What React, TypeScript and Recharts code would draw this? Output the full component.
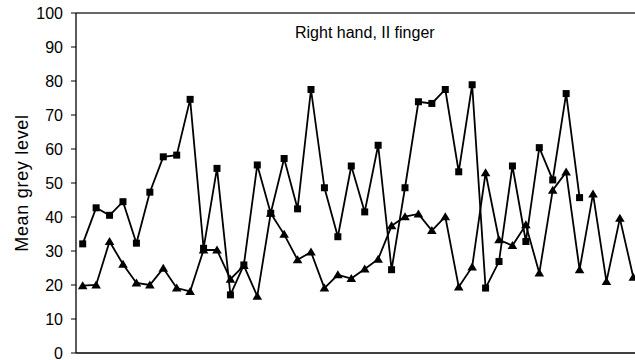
import React from "react"
import {
  LineChart,
  Line,
  XAxis,
  YAxis,
  ReferenceLine,
} from "recharts"

// 42 samples; the square series stops after sample 38
const samples = Array.from({ length: 42 }, (_, i) => String(i + 1))

const squareSeries = [
  32.1, 42.7, 40.5, 44.5, 32.3, 47.3, 57.7, 58.2, 74.6, 30.8,
  54.3, 17.1, 25.9, 55.3, 41.1, 57.2, 42.4, 77.5, 48.6, 34.2,
  55.0, 41.5, 61.1, 24.5, 48.6, 73.9, 73.4, 77.5, 53.3, 78.9,
  19.1, 26.9, 55.0, 32.8, 60.4, 50.9, 76.3, 45.7,
]

const triangleSeries = [
  19.8, 20.0, 32.8, 26.1, 20.6, 20.0, 24.9, 19.1, 18.1, 30.3,
  30.3, 21.7, 25.7, 16.7, 41.1, 34.9, 27.4, 29.7, 19.1, 23.0,
  21.9, 24.7, 27.6, 37.4, 40.1, 40.9, 36.0, 40.1, 19.4, 25.3,
  53.0, 33.3, 31.6, 37.7, 23.5, 47.9, 53.2, 24.5, 46.8, 21.0,
  39.6, 22.3,
]

const yTicks = [0, 10, 20, 30, 40, 50, 60, 70, 80, 90, 100]

const data = samples.map((name, i) => ({
  name,
  sq: squareSeries[i],
  tri: triangleSeries[i],
}))

const FONT = "'Liberation Sans', Arial, sans-serif"

const SquareDot = (props: any) => {
  const { cx, cy, index } = props
  if (cx == null || cy == null) return <g key={`s-${index}`} />
  return <rect key={`s-${index}`} x={cx - 3.5} y={cy - 3.5} width={7} height={7} fill="#000" />
}

const TriangleDot = (props: any) => {
  const { cx, cy, index } = props
  if (cx == null || cy == null) return <g key={`t-${index}`} />
  return (
    <polygon
      key={`t-${index}`}
      points={`${cx},${cy - 4.5} ${cx + 4.8},${cy + 3.5} ${cx - 4.8},${cy + 3.5}`}
      fill="#000"
    />
  )
}

const YLabel = (props: any) => {
  const vb = props.viewBox
  const x = vb.x + 22
  const y = vb.y + vb.height / 2
  return (
    <text
      x={x}
      y={y}
      transform={`rotate(-90 ${x} ${y})`}
      textAnchor="middle"
      dominantBaseline="central"
      fontFamily={FONT}
      fontSize={18}
      letterSpacing={0.7}
      fill="#000"
    >
      Mean grey level
    </text>
  )
}

export default function App() {
  return (
    <div
      style={{
        position: "fixed",
        left: 0,
        top: 0,
        width: 635,
        height: 360,
        overflow: "hidden",
        background: "#fff",
        fontFamily: FONT,
      }}
    >
      <LineChart
        width={645}
        height={360}
        data={data}
        margin={{ top: 13, right: 5, bottom: 6, left: 0 }}
      >
        <XAxis
          dataKey="name"
          tick={false}
          tickLine={false}
          axisLine={{ stroke: "#000", strokeWidth: 1.3 }}
          height={1}
          padding={{ left: 6.7, right: 6.7 }}
        />
        <YAxis
          width={76}
          domain={[0, 100]}
          ticks={yTicks}
          interval={0}
          tickSize={5}
          tickMargin={8}
          tickLine={{ stroke: "#000" }}
          axisLine={{ stroke: "#000", strokeWidth: 1.3 }}
          tick={{ fill: "#000", fontSize: 16, fontFamily: FONT }}
          label={{ content: <YLabel /> }}
        />
        <ReferenceLine y={100} stroke="#333" strokeWidth={1.3} ifOverflow="visible" />
        <Line
          dataKey="sq"
          stroke="#000"
          strokeWidth={1.8}
          dot={SquareDot}
          activeDot={false}
          isAnimationActive={false}
        />
        <Line
          dataKey="tri"
          stroke="#000"
          strokeWidth={1.8}
          dot={TriangleDot}
          activeDot={false}
          isAnimationActive={false}
        />
      </LineChart>
      <div
        style={{
          position: "absolute",
          left: 295,
          top: 25,
          fontSize: 16,
          lineHeight: 1,
          whiteSpace: "nowrap",
          color: "#000",
        }}
      >
        Right hand, II finger
      </div>
    </div>
  )
}
